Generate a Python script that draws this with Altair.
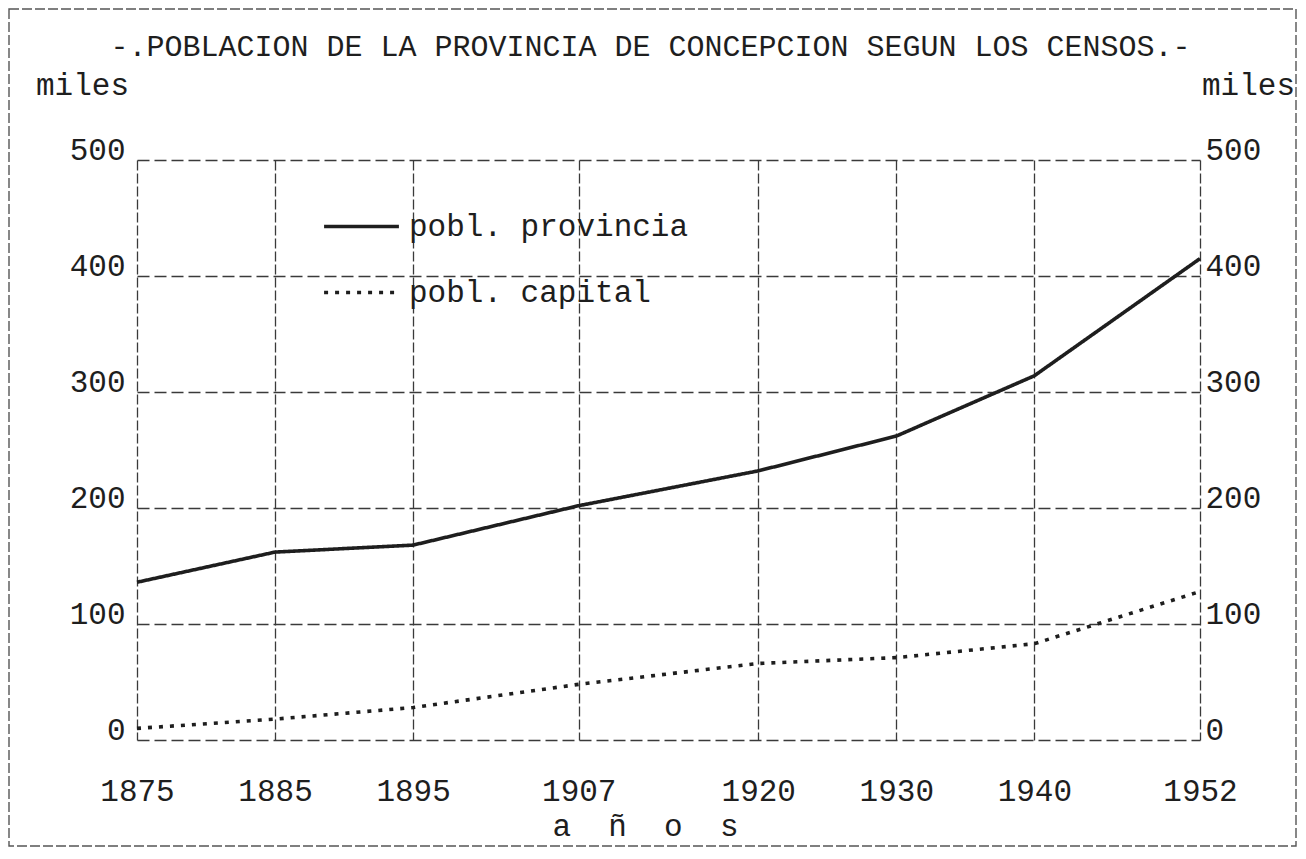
import altair as alt
import pandas as pd

# ---- data ----
years = [1875, 1885, 1895, 1907, 1920, 1930, 1940, 1952]
provincia = [136, 162, 168, 202, 232, 262, 314, 415]   # miles
capital = [10, 18, 28, 48, 66, 71, 83, 128]            # miles
series_names = ["pobl. provincia", "pobl. capital"]
y_ticks = [0, 100, 200, 300, 400, 500]
title_text = "-.POBLACION DE LA PROVINCIA DE CONCEPCION SEGUN LOS CENSOS.-"
x_title = "a\u00a0\u00a0ñ\u00a0\u00a0o\u00a0\u00a0s"

rows = []
for name, vals in zip(series_names, [provincia, capital]):
    for yr, v in zip(years, vals):
        rows.append({"year": yr, "miles": v, "serie": name})
df = pd.DataFrame(rows)

FONT = "Liberation Mono"
INK = "#1e1e1e"
GRID = "#3a3a3a"
W, H = 1063, 580

x = alt.X(
    "year:Q",
    scale=alt.Scale(domain=[years[0], years[-1]], nice=False, zero=False),
    axis=alt.Axis(
        values=years, format="d", title=x_title,
        grid=True, gridColor=GRID, gridDash=[10, 3], gridWidth=1.3,
        domain=False, ticks=False,
        labelFont=FONT, labelFontSize=31, labelColor=INK,
        labelBaseline="middle", labelPadding=51, labelFlush=False,
        titleFont=FONT, titleFontSize=31, titleFontWeight="normal", titleColor=INK,
        titleX=508, titleY=86, titleBaseline="middle", titleAlign="center",
    ),
)

y_left = alt.Y(
    "miles:Q",
    scale=alt.Scale(domain=[0, 500], nice=False),
    axis=alt.Axis(
        orient="left", values=y_ticks, title="miles",
        grid=True, gridColor=GRID, gridDash=[12, 5], gridWidth=1.3,
        domain=False, ticks=False,
        labelFont=FONT, labelFontSize=31, labelColor=INK,
        labelPadding=12, labelOffset=-10,
        titleFont=FONT, titleFontSize=31, titleFontWeight="normal", titleColor=INK,
        titleAngle=0, titleX=-55, titleY=-75, titleAlign="center", titleBaseline="middle",
    ),
)

y_right = alt.Y(
    "miles:Q",
    scale=alt.Scale(domain=[0, 500], nice=False),
    axis=alt.Axis(
        orient="right", values=y_ticks, title="miles",
        grid=False, domain=False, ticks=False,
        labelFont=FONT, labelFontSize=31, labelColor=INK,
        labelPadding=5, labelOffset=-10,
        titleFont=FONT, titleFontSize=31, titleFontWeight="normal", titleColor=INK,
        titleAngle=0, titleX=48, titleY=-75, titleAlign="center", titleBaseline="middle",
    ),
)

lines = alt.Chart(df).mark_line(color=INK, strokeWidth=3.6).encode(
    x=x,
    y=y_left,
    strokeDash=alt.StrokeDash(
        "serie:N",
        scale=alt.Scale(domain=series_names, range=[[1, 0], [4, 7]]),
        legend=alt.Legend(
            title=None, orient="none", legendX=185, legendY=27,
            symbolType="stroke", symbolSize=5600, symbolStrokeWidth=3.6,
            symbolStrokeColor=INK,
            labelFont=FONT, labelFontSize=31, labelColor=INK, labelOffset=8,
            labelLimit=0, rowPadding=11, padding=0,
        ),
        sort=series_names,
    ),
)

right_axis = alt.Chart(df).mark_line(opacity=0).encode(
    x=x,
    y=y_right,
    detail="serie:N",
)

frame = alt.Chart(pd.DataFrame({"marco": [1]})).mark_rect(
    filled=False, stroke="#555555", strokeWidth=1.4, strokeDash=[10, 3]
).encode(
    x=alt.value(-128), x2=alt.value(1159), y=alt.value(-151), y2=alt.value(686)
)

chart = (
    alt.layer(frame, lines, right_axis)
    .resolve_axis(y="independent")
    .properties(
        width=W, height=H,
        padding={"left": 129, "top": 152, "right": 98, "bottom": 111},
        autosize=alt.AutoSizeParams(type="none"),
        title=alt.Title(
            title_text, font=FONT, fontSize=30, fontWeight="normal", color=INK,
            anchor="middle", dx=-18, offset=-54,
        ),
        background="white",
    )
    .configure_view(strokeWidth=0)
)

chart.save("out.html", embed_options={"renderer": "svg", "actions": False})
